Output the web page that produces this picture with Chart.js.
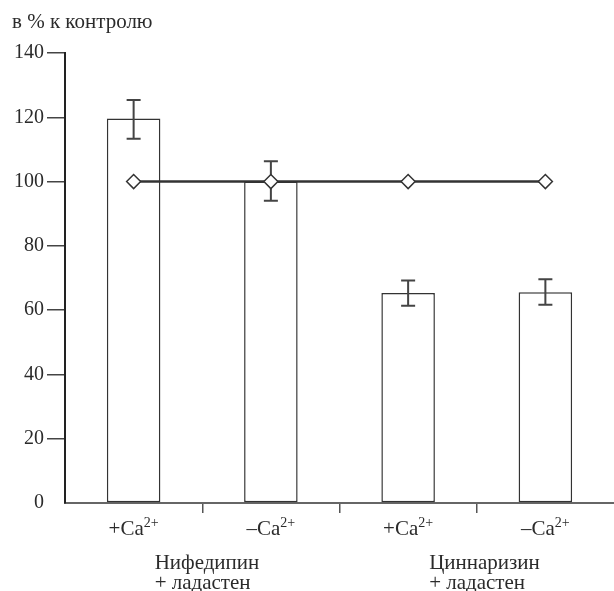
<!DOCTYPE html>
<html>
<head>
<meta charset="utf-8">
<script src="https://cdn.jsdelivr.net/npm/chart.js@4/dist/chart.umd.min.js"></script>
<style>
  html, body { margin: 0; padding: 0; background: #fff; }
  #wrap { width: 614px; height: 591px; }
</style>
</head>
<body>
<div id="wrap"><canvas id="chart" width="614" height="591"></canvas></div>
<script>
// данные
const categories = ['+Ca', '–Ca', '+Ca', '–Ca'];
const superscripts = ['2+', '2+', '2+', '2+'];
const barValues = [119.6, 100, 65.3, 65.6];
const errLow = [113.3, 94.0, 61.4, 61.7];
const errHigh = [125.4, 106.3, 69.2, 69.6];
const controlValues = [100, 100, 100, 100];
const groupLabels = [
  { index: 0, lines: ['Нифедипин', '+ ладастен'] },
  { index: 2, lines: ['Циннаризин', '+ ладастен'] }
];
const yTitle = 'в % к контролю';

const FONT = '"Liberation Serif", "Times New Roman", serif';
const ink = '#2b2b2b';

// планки погрешностей рисуем после столбцов, но до линии
const errorBars = {
  id: 'errorBars',
  afterDatasetDraw(chart, args) {
    if (args.index !== 0) return;
    const ctx = chart.ctx;
    const y = chart.scales.y;
    const meta = chart.getDatasetMeta(0);
    ctx.save();
    ctx.strokeStyle = '#444';
    ctx.lineWidth = 2;
    meta.data.forEach((bar, i) => {
      const x = bar.x;
      const top = y.getPixelForValue(errHigh[i]);
      const bot = y.getPixelForValue(errLow[i]);
      ctx.beginPath();
      ctx.moveTo(x, top); ctx.lineTo(x, bot);
      ctx.moveTo(x - 7, top); ctx.lineTo(x + 7, top);
      ctx.moveTo(x - 7, bot); ctx.lineTo(x + 7, bot);
      ctx.stroke();
    });
    ctx.restore();
  }
};

// подписи оси X с верхним индексом и заголовок
const labelsPlugin = {
  id: 'labelsPlugin',
  afterDraw(chart) {
    const ctx = chart.ctx;
    const x = chart.scales.x;
    ctx.save();
    ctx.fillStyle = ink;
    ctx.textBaseline = 'alphabetic';

    ctx.font = '21px ' + FONT;
    ctx.textAlign = 'left';
    ctx.fillText(yTitle, 12, 28);

    categories.forEach((c, i) => {
      const cx = x.getPixelForValue(i);
      ctx.font = '21px ' + FONT;
      const w1 = ctx.measureText(c).width;
      ctx.font = '14px ' + FONT;
      const w2 = ctx.measureText(superscripts[i]).width;
      const start = cx - (w1 + w2) / 2;
      ctx.font = '21px ' + FONT;
      ctx.fillText(c, start, 535);
      ctx.font = '14px ' + FONT;
      ctx.fillText(superscripts[i], start + w1, 527);
    });

    ctx.font = '21px ' + FONT;
    groupLabels.forEach(g => {
      const cx = x.getPixelForValue(g.index) + 21;
      ctx.fillText(g.lines[0], cx, 569);
      ctx.fillText(g.lines[1], cx, 589);
    });
    ctx.restore();
  }
};

new Chart(document.getElementById('chart'), {
  data: {
    labels: categories,
    datasets: [
      {
        type: 'bar',
        data: barValues,
        backgroundColor: '#ffffff',
        borderColor: '#333',
        borderWidth: 1.5,
        borderSkipped: false,
        barPercentage: 0.39,
        categoryPercentage: 1,
        order: 2
      },
      {
        type: 'line',
        data: controlValues,
        borderColor: '#333',
        borderWidth: 2.5,
        pointStyle: 'rectRot',
        pointRadius: 7,
        pointBackgroundColor: '#fff',
        pointBorderColor: '#333',
        pointBorderWidth: 1.5,
        order: 1
      }
    ]
  },
  options: {
    responsive: false,
    animation: false,
    layout: { autoPadding: false, padding: { top: 53, right: 0, left: 0, bottom: 0 } },
    plugins: {
      legend: { display: false },
      tooltip: { enabled: false }
    },
    scales: {
      x: {
        type: 'category',
        offset: true,
        grid: {
          offset: true,
          drawOnChartArea: false,
          drawTicks: true,
          tickLength: 10,
          lineWidth: 1.5,
          // только промежуточные засечки
          color: (c) => (c.type === 'tick' && c.index > 0 ? '#555' : 'rgba(0,0,0,0)')
        },
        border: { display: true, color: '#666', width: 2 },
        ticks: { display: false },
        afterFit: (s) => { s.height = 88; }
      },
      y: {
        min: 0,
        max: 140,
        ticks: {
          stepSize: 20,
          color: ink,
          padding: 3,
          font: { family: FONT, size: 20 }
        },
        grid: {
          drawOnChartArea: false,
          drawTicks: true,
          tickLength: 18,
          lineWidth: 1.5,
          color: (c) => (c.tick && c.tick.value === 0 ? 'rgba(0,0,0,0)' : '#444')
        },
        border: { display: true, color: '#222', width: 2 },
        afterFit: (s) => { s.width = 65; }
      }
    }
  },
  plugins: [errorBars, labelsPlugin]
});
</script>
</body>
</html>
